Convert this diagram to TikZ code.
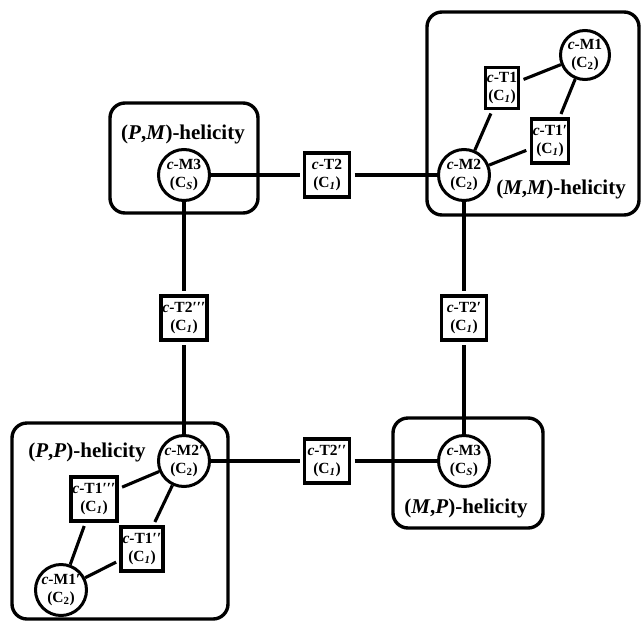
\documentclass[tikz,border=0pt]{standalone}
\usepackage{fontspec}
\setmainfont{Liberation Serif}
\newcommand{\pr}{′}
\begin{document}
\begin{tikzpicture}[x=1pt,y=-1pt,
  nodetext/.style={font=\bfseries\fontsize{15.5}{18}\selectfont, align=center},
  circ/.style={nodetext, circle, draw, line width=3pt, minimum size=51pt, inner sep=0pt, fill=white},
  tbox/.style={nodetext, rectangle, draw, line width=3.4pt, minimum width=30pt, minimum height=44pt, inner sep=1.5pt, outer sep=5pt, fill=white},
  tboxw/.style={tbox, minimum width=45pt},
  region/.style={draw, line width=3.4pt, rounded corners=15pt},
  conn/.style={line width=3.1pt},
  helix/.style={font=\bfseries\fontsize{21}{24}\selectfont, inner sep=0pt}]
\useasboundingbox (0,0) rectangle (642,624);
% regions
\draw[region] (110,103) rectangle (258,213);
\draw[region] (427,12) rectangle (639,215);
\draw[region] (12,423) rectangle (228,619);
\draw[region] (393,418) rectangle (543,528);
% labels
\node[helix] (lpm) at (183,134) {(\textit{P},\textit{M})-helicity};
\node[helix] (lmm) at (561,189) {(\textit{M},\textit{M})-helicity};
\node[helix] (lpp) at (87,452) {(\textit{P},\textit{P})-helicity};
\node[helix] (lmp) at (466,508) {(\textit{M},\textit{P})-helicity};
% nodes
\node[circ] (m3a) at (184,175) {\textit{c}-M3\\(C\textsubscript{\textit{S}})};
\node[tboxw] (t2) at (327,175) {\textit{c}-T2\\(C\textsubscript{\textit{1}})};
\node[circ] (m2) at (464,175) {\textit{c}-M2\\(C\textsubscript{2})};
\node[circ, minimum size=49pt] (m1) at (585,55) {\textit{c}-M1\\(C\textsubscript{2})};
\node[tbox, minimum height=41pt] (t1) at (502,88) {\textit{c}-T1\\(C\textsubscript{\textit{1}})};
\node[tbox] (t1p) at (550,141) {\textit{c}-T1\pr\\(C\textsubscript{\textit{1}})};
\node[tboxw] (t2p) at (464,318) {\textit{c}-T2\pr\\(C\textsubscript{\textit{1}})};
\node[tboxw] (t2ppp) at (184,318) {\textit{c}-T2\pr\pr\pr\\(C\textsubscript{\textit{1}})};
\node[circ] (m2p) at (184,461) {\textit{c}-M2\pr\\(C\textsubscript{2})};
\node[tboxw] (t2pp) at (327,461) {\textit{c}-T2\pr\pr\\(C\textsubscript{\textit{1}})};
\node[circ] (m3b) at (464,461) {\textit{c}-M3\\(C\textsubscript{\textit{S}})};
\node[tbox] (t1ppp) at (94,499) {\textit{c}-T1\pr\pr\pr\\(C\textsubscript{\textit{1}})};
\node[tbox] (t1pp) at (142,549) {\textit{c}-T1\pr\pr\\(C\textsubscript{\textit{1}})};
\node[circ] (m1p) at (61,590) {\textit{c}-M1\pr\\(C\textsubscript{2})};
% connectors
\draw[conn] (m3a) -- (t2);
\draw[conn] (t2) -- (m2);
\draw[conn] (m3a) -- (t2ppp);
\draw[conn] (t2ppp) -- (m2p);
\draw[conn] (m2) -- (t2p);
\draw[conn] (t2p) -- (m3b);
\draw[conn] (m2p) -- (t2pp);
\draw[conn] (t2pp) -- (m3b);
\draw[conn] (m2) -- (t1);
\draw[conn] (t1) -- (m1);
\draw[conn] (m2) -- (t1p);
\draw[conn] (t1p) -- (m1);
\draw[conn] (m2p) -- (t1ppp);
\draw[conn] (t1ppp) -- (m1p);
\draw[conn] (m2p) -- (t1pp);
\draw[conn] (t1pp) -- (m1p);
\end{tikzpicture}
\end{document}
